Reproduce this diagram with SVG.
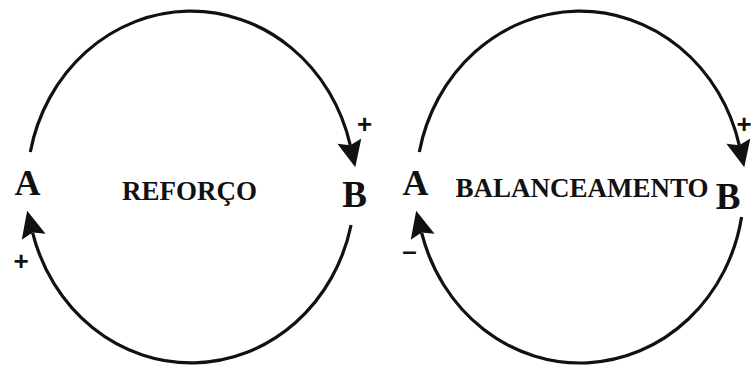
<svg xmlns="http://www.w3.org/2000/svg" width="751" height="369" viewBox="0 0 751 369">
<style>
.lnk{fill:none;stroke:#111;stroke-width:3.2;}
.var{font-family:"Liberation Serif","Times New Roman",serif;font-weight:bold;fill:#111;text-anchor:middle;}
.loop{font-family:"Liberation Serif","Times New Roman",serif;font-weight:bold;font-size:27px;fill:#111;text-anchor:middle;}
.sgn{font-family:"Liberation Sans",Arial,sans-serif;font-weight:bold;font-size:26px;fill:#111;text-anchor:middle;}
</style>
<defs>
<marker id="ah" markerUnits="userSpaceOnUse" markerWidth="32" markerHeight="30" refX="4" refY="0" viewBox="-2 -13 30 26" orient="auto">
<path d="M0,-11.5 L25,0 L0,11.5 L4,0 Z" fill="#111"/>
</marker>
</defs>
<rect width="751" height="369" fill="#fff"/>
<g id="connectors">
<path class="lnk" d="M30.3,152 A164 176 0 0 1 350.3,145.3" marker-end="url(#ah)"/>
<path class="lnk" d="M351.1,225 A164 176 0 0 1 32.6,232.6" marker-end="url(#ah)"/>
<path class="lnk" d="M419.3,152 A164 176 0 0 1 739.3,145.3" marker-end="url(#ah)"/>
<path class="lnk" d="M741.6,217 A164 176 0 0 1 421.6,232.6" marker-end="url(#ah)"/>
<text class="sgn" x="364.5" y="133">+</text>
<text class="sgn" x="21" y="270">+</text>
<text class="sgn" x="744" y="133">+</text>
<text class="sgn" x="409.5" y="260" font-weight="normal">–</text>
</g>
<g id="loop-reforco">
<g id="node-A1"><text class="var" x="27.5" y="195" font-size="36">A</text></g>
<g id="node-B1"><text class="var" x="354.5" y="207" font-size="37">B</text></g>
<text class="loop" x="189.5" y="200">REFORÇO</text>
</g>
<g id="loop-balanceamento">
<g id="node-A2"><text class="var" x="415.5" y="195" font-size="36">A</text></g>
<g id="node-B2"><text class="var" x="728" y="209" font-size="37" text-anchor="start">B</text></g>
<text class="loop" x="582" y="197" font-size="27.5">BALANCEAMENTO</text>
</g>
</svg>
